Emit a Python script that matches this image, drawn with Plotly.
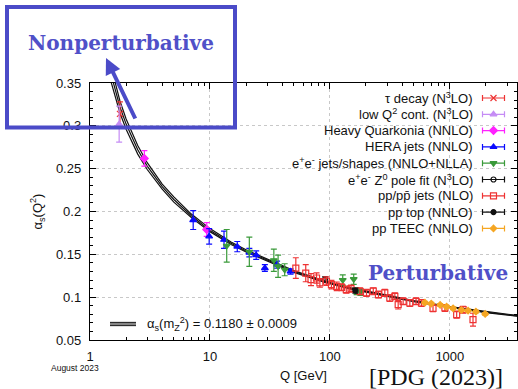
import plotly.graph_objects as go

# ---------------- data ----------------
curve_Q = [1.5, 1.6, 1.777, 2.0, 2.5, 3.0, 4.0, 5.0, 7.0, 10, 15, 20, 30, 50, 91.19, 150, 200, 300, 500, 1000, 2000, 4000]
curve_mid = [0.360, 0.345, 0.322, 0.302, 0.272, 0.253, 0.229, 0.214, 0.195, 0.178, 0.163, 0.154, 0.143, 0.130, 0.118, 0.110, 0.1065, 0.1013, 0.0955, 0.0885, 0.0825, 0.0775]
curve_up = [0.369, 0.353, 0.329, 0.308, 0.277, 0.257, 0.232, 0.217, 0.197, 0.180, 0.1645, 0.1553, 0.1442, 0.1310, 0.1189, 0.1108, 0.1073, 0.1020, 0.0961, 0.0890, 0.0830, 0.0779]
curve_dn = [0.351, 0.337, 0.315, 0.296, 0.267, 0.249, 0.226, 0.211, 0.193, 0.1765, 0.1615, 0.1527, 0.1418, 0.1290, 0.1171, 0.1092, 0.1057, 0.1006, 0.0949, 0.0880, 0.0820, 0.0771]

tau_Q = [1.777]; tau_a = [0.314]; tau_e = [0.014]
lowq_Q = [1.75]; lowq_a = [0.302]; lowq_e = [0.021]
quark_Q = [2.84, 9.4]; quark_a = [0.262, 0.179]; quark_e = [0.009, 0.008]
hera_Q = [7.25, 9.85, 13.1, 16.9, 21.3, 24.3, 28.7, 36.3, 47]
hera_a = [0.190, 0.171, 0.167, 0.159, 0.152, 0.149, 0.134, 0.138, 0.130]
hera_e = [0.011, 0.009, 0.010, 0.006, 0.005, 0.005, 0.004, 0.004, 0.003]
ee_Q = [13.8, 21.3, 34.1, 37, 42, 128, 158, 167, 180]
ee_a = [0.160, 0.153, 0.143, 0.136, 0.132, 0.120, 0.121, 0.107, 0.106]
ee_e = [0.019, 0.017, 0.013, 0.013, 0.007, 0.006, 0.006, 0.004, 0.004]
z0_Q = [91.19]; z0_a = [0.1208]; z0_e = [0.0028]
ppj_Q = [52, 62.9, 69.6, 77.4, 82.5, 93.6, 103, 114, 125, 137, 150, 178, 202, 230, 254, 287, 316, 348, 371, 408, 464, 523, 580, 724, 910, 1140, 1290, 1560]
ppj_a = [0.134, 0.128, 0.1205, 0.1224, 0.1166, 0.1186, 0.1146, 0.1127, 0.1115, 0.1088, 0.110, 0.1069, 0.105, 0.107, 0.103, 0.105, 0.099, 0.101, 0.0912, 0.0952, 0.0932, 0.0952, 0.0932, 0.087, 0.0874, 0.0796, 0.0854, 0.0737]
ppj_e = [0.012, 0.010, 0.007, 0.006, 0.005, 0.005, 0.005, 0.005, 0.004, 0.004, 0.004, 0.004, 0.004, 0.004, 0.004, 0.004, 0.004, 0.004, 0.005, 0.004, 0.004, 0.004, 0.004, 0.004, 0.004, 0.004, 0.004, 0.0075]
top_Q = [163]; top_a = [0.1076]; top_e = [0.003]
teec_Q = [620, 700, 830, 940, 1065, 1250, 1420, 1650, 1970]
teec_a = [0.0936, 0.0925, 0.0909, 0.0889, 0.087, 0.085, 0.0842, 0.0831, 0.0804]
teec_e = [0.0015, 0.0015, 0.0015, 0.0015, 0.0015, 0.0015, 0.0015, 0.0015, 0.0015]

x_tickvals = [1, 10, 100, 1000]
x_ticktext = ["1", "10", "100", "1000"]
y_tickvals = [0.05, 0.1, 0.15, 0.2, 0.25, 0.3, 0.35]
y_ticktext = ["0.05", "0.1", "0.15", "0.2", "0.25", "0.3", "0.35"]

RED = "#ee3333"; VIOLET = "#c58cf5"; MAG = "#ff22ff"; BLUE = "#0a0aff"
GREEN = "#3a9a3a"; BLACK = "#111111"; ORANGE = "#f5a623"; BOXC = "#4b4bc8"

series = [
    ("τ decay (N<sup>3</sup>LO)", tau_Q, tau_a, tau_e, RED, "x-thin-open", 6),
    ("low Q<sup>2</sup> cont. (N<sup>3</sup>LO)", lowq_Q, lowq_a, lowq_e, VIOLET, "triangle-up", 6),
    ("Heavy Quarkonia (NNLO)", quark_Q, quark_a, quark_e, MAG, "diamond", 6),
    ("HERA jets (NNLO)", hera_Q, hera_a, hera_e, BLUE, "triangle-up", 6),
    ("e<sup>+</sup>e<sup>-</sup> jets/shapes (NNLO+NLLA)", ee_Q, ee_a, ee_e, GREEN, "triangle-down", 6),
    ("e<sup>+</sup>e<sup>-</sup> Z<sup>0</sup> pole fit (N<sup>3</sup>LO)", z0_Q, z0_a, z0_e, BLACK, "circle-open", 5),
    ("pp/pp\u0304 jets (NLO)", ppj_Q, ppj_a, ppj_e, RED, "square-open", 6),
    ("pp top (NNLO)", top_Q, top_a, top_e, BLACK, "circle", 5),
    ("pp TEEC (NNLO)", teec_Q, teec_a, teec_e, ORANGE, "diamond", 5),
]

fig = go.Figure()

# band curves
for arr in (curve_up, curve_dn, curve_mid):
    fig.add_trace(go.Scatter(x=curve_Q, y=arr, mode="lines", line=dict(color=BLACK, width=1.2),
                             showlegend=False, hoverinfo="skip"))

for name, q, a, e, col, sym, sz in series:
    fig.add_trace(go.Scatter(
        x=q, y=a, mode="markers", name=name, showlegend=False,
        marker=dict(color=col, symbol=sym, size=sz, line=dict(color=col, width=1.2)),
        error_y=dict(type="data", array=e, visible=True, color=col, thickness=1.2, width=3),
    ))

# ---------- custom legend (pixel overlay axes) ----------
L_LEFT, L_RIGHT, L_TOP, L_BOT = 90, 517, 83, 340
row0, drow = 98, 16.3
text_right, samp_x, samp_half = 475, 493.5, 11
annotations = []
for i, (name, q, a, e, col, sym, sz) in enumerate(series):
    yy = row0 + i * drow
    fig.add_trace(go.Scatter(
        x=[samp_x], y=[yy], xaxis="x2", yaxis="y2", mode="markers", showlegend=False,
        marker=dict(color=col, symbol=sym, size=sz, line=dict(color=col, width=1.2)),
        error_x=dict(type="constant", value=samp_half, visible=True, color=col, thickness=1.2, width=3),
        hoverinfo="skip",
    ))
    annotations.append(dict(x=text_right, y=yy, xref="x2", yref="y2", text=name, showarrow=False,
                            xanchor="right", yanchor="middle",
                            font=dict(family="Liberation Sans, Arial", size=13, color="#111")))

# band legend sample
shapes = []
for dy in (-1.6, 0, 1.6):
    shapes.append(dict(type="line", xref="x2", yref="y2", x0=110, x1=136, y0=324 + dy, y1=324 + dy,
                       line=dict(color="#222", width=1.1)))
annotations.append(dict(x=145, y=324, xref="x2", yref="y2", showarrow=False, xanchor="left", yanchor="middle",
                        text="α<sub>s</sub>(m<sub>Z</sub><sup>2</sup>) = 0.1180 ± 0.0009",
                        font=dict(family="Liberation Sans, Arial", size=13, color="#111")))

W = L_RIGHT - L_LEFT
H = L_BOT - L_TOP
def px(xp):
    return (xp - L_LEFT) / W
def py(yp):
    return (L_BOT - yp) / H

annotations += [
    dict(x=px(75), y=py(368), xref="paper", yref="paper", text="August 2023", showarrow=False,
         xanchor="center", yanchor="middle",
         font=dict(family="Liberation Sans, Arial", size=8.5, color="#111")),
    dict(x=px(436), y=py(377), xref="paper", yref="paper", text="[PDG (2023)]", showarrow=False,
         xanchor="center", yanchor="middle",
         font=dict(family="Liberation Serif, DejaVu Serif, serif", size=24, color="#111")),
    dict(x=px(121), y=py(43), xref="paper", yref="paper", text="<b>Nonperturbative</b>", showarrow=False,
         xanchor="center", yanchor="middle",
         font=dict(family="DejaVu Serif, serif", size=20, color="#5050c8")),
    dict(x=px(438), y=py(273), xref="paper", yref="paper", text="<b>Perturbative</b>", showarrow=False,
         xanchor="center", yanchor="middle",
         font=dict(family="DejaVu Serif, serif", size=20, color="#5050c8")),
    dict(x=px(106), y=py(58), xref="paper", yref="paper", text="", showarrow=True,
         ax=30, ay=62, arrowhead=2, arrowsize=0.8, arrowwidth=4, arrowcolor=BOXC),
]
shapes.append(dict(type="rect", xref="paper", yref="paper", x0=px(7), x1=px(235), y0=py(127.5), y1=py(7),
                   line=dict(color=BOXC, width=4), layer="above"))

axis_common = dict(showline=True, linecolor="black", linewidth=1.4, mirror="allticks",
                   ticks="inside", ticklen=6, tickwidth=1, tickcolor="black",
                   showgrid=True, gridcolor="#c8c8c8", griddash="dot", gridwidth=1,
                   zeroline=False, tickfont=dict(family="Liberation Sans, Arial", size=13, color="#111"))

fig.update_layout(
    width=518, height=389,
    margin=dict(l=L_LEFT, r=518 - L_RIGHT, t=L_TOP, b=389 - L_BOT, autoexpand=False),
    paper_bgcolor="white", plot_bgcolor="white",
    showlegend=False,
    xaxis=dict(type="log", range=[0, 3.56], tickvals=x_tickvals, ticktext=x_ticktext,
               minor=dict(ticks="inside", ticklen=3, tickcolor="black", dtick="D1", showgrid=False),
               title=dict(text="Q [GeV]", font=dict(family="Liberation Sans, Arial", size=13, color="#111"), standoff=8),
               ticklabelstandoff=4, **axis_common),
    yaxis=dict(range=[0.05, 0.35], tickvals=y_tickvals, ticktext=y_ticktext,
               minor=dict(ticks="inside", ticklen=3, tickcolor="black", dtick=0.01, showgrid=False),
               title=dict(text="α<sub>s</sub>(Q<sup>2</sup>)", font=dict(family="Liberation Sans, Arial", size=13, color="#111"), standoff=10),
               ticklabelstandoff=5, **axis_common),
    xaxis2=dict(overlaying="x", range=[L_LEFT, L_RIGHT], visible=False, anchor="y2"),
    yaxis2=dict(overlaying="y", range=[L_BOT, L_TOP], visible=False, anchor="x2"),
    annotations=annotations, shapes=shapes,
)

fig.write_html("out.html", config={"displayModeBar": False},
               post_script="document.body.style.margin='0';document.body.style.overflow='hidden';")
